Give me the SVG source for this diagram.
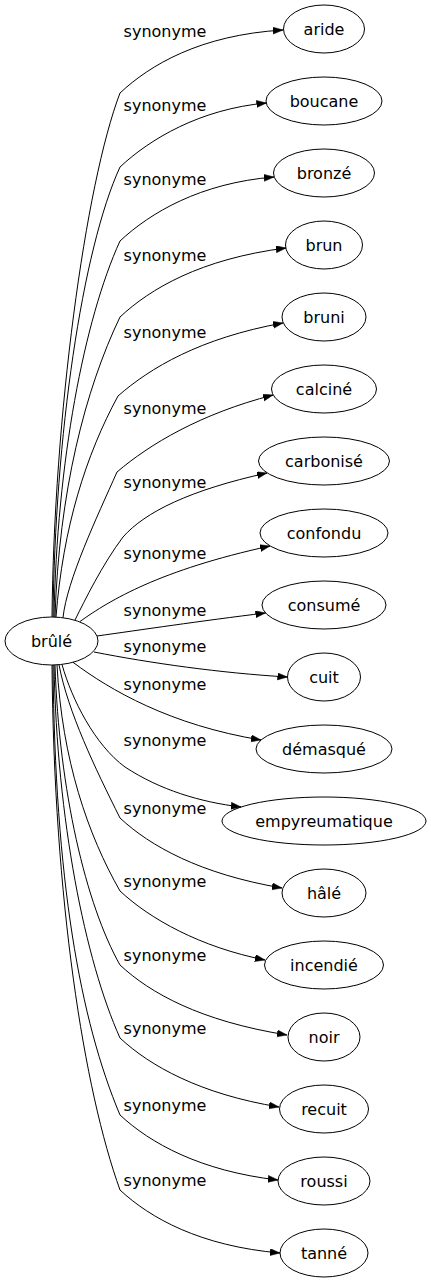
<svg xmlns="http://www.w3.org/2000/svg" width="431" height="1283" viewBox="0 0 431 1283">
<style>
.n ellipse{fill:none;stroke:#000;stroke-width:1}
text{font-family:"DejaVu Sans",Verdana,sans-serif;font-size:16px;fill:#000;text-anchor:middle}
.e path{fill:none;stroke:#000;stroke-width:1;marker-end:url(#ah)}
</style>
<defs>
<marker id="ah" markerUnits="userSpaceOnUse" markerWidth="10" markerHeight="8" refX="10" refY="3.5" orient="auto"><path d="M0,0 L10,3.5 L0,7 z" fill="#000" stroke="#000" stroke-width="0.5"/></marker>
</defs>
<rect width="431" height="1283" fill="#fff"/>
<g id="edges" class="e">
<path d="M52,617 C54,418 85,185 120,93 C150,65 200,35 283,30"/>
<path d="M53,617 C55,437 82,250 120,167 C150,139 200,109 266.5,103"/>
<path d="M54,617 C57,462 84,320 120,241 C150,213 200,183 274,177"/>
<path d="M55,617 C59,492 85,390 120,317 C150,289 200,259 286,248"/>
<path d="M56,617 C63,527 86,455 118,396 C150,368 200,338 283,323"/>
<path d="M63,617.7 C67,580 97,517 117,472 C150,444 200,414 273,395"/>
<path d="M75,620 C85,600 102,565 123,537 C145,512 190,490 267,473"/>
<path d="M80,621.5 C110,600 160,570 270,546"/>
<path d="M97,636 C140,630 200,621 265.5,613"/>
<path d="M94,652 C150,663 220,673 287.5,677"/>
<path d="M73,662.3 C110,690 170,725 261,740"/>
<path d="M62,664.5 C72,700 95,745 125,767 C160,790 200,802 241,807"/>
<path d="M59,664.8 C68,712 95,768 120,818 C150,846 200,874 282,888"/>
<path d="M57,664.9 C62,760 88,835 120,891 C150,919 200,947 265,960"/>
<path d="M55,665 C59,790 86,905 120,965 C150,993 200,1021 287,1035"/>
<path d="M54,665 C57,820 85,960 120,1038 C150,1066 200,1094 279,1107"/>
<path d="M53,665 C55,880 80,1020 120,1115 C150,1143 200,1171 278,1180"/>
<path d="M52,665 C54,900 84,1090 120,1190 C150,1218 200,1246 280,1253"/>
</g>
<g id="edge-labels">
<text x="165" y="37">synonyme</text>
<text x="165" y="111">synonyme</text>
<text x="165" y="185">synonyme</text>
<text x="165" y="261">synonyme</text>
<text x="165" y="338">synonyme</text>
<text x="165" y="414">synonyme</text>
<text x="165" y="488">synonyme</text>
<text x="165" y="559">synonyme</text>
<text x="165" y="616">synonyme</text>
<text x="165" y="652">synonyme</text>
<text x="165" y="690">synonyme</text>
<text x="165" y="746">synonyme</text>
<text x="165" y="814">synonyme</text>
<text x="165" y="887">synonyme</text>
<text x="165" y="961">synonyme</text>
<text x="165" y="1034">synonyme</text>
<text x="165" y="1111">synonyme</text>
<text x="165" y="1186">synonyme</text>
</g>
<g id="n-brule" class="n"><ellipse cx="51.5" cy="641" rx="46.5" ry="24"/><text x="51.5" y="647">brûlé</text></g>
<g id="n-aride" class="n"><ellipse cx="324" cy="29" rx="40.5" ry="24"/><text x="324" y="35">aride</text></g>
<g id="n-boucane" class="n"><ellipse cx="324" cy="101" rx="58" ry="24"/><text x="324" y="107">boucane</text></g>
<g id="n-bronze" class="n"><ellipse cx="324" cy="173" rx="50.5" ry="24"/><text x="324" y="179">bronzé</text></g>
<g id="n-brun" class="n"><ellipse cx="324" cy="245" rx="38.5" ry="24"/><text x="324" y="251">brun</text></g>
<g id="n-bruni" class="n"><ellipse cx="324" cy="317" rx="42" ry="24"/><text x="324" y="323">bruni</text></g>
<g id="n-calcine" class="n"><ellipse cx="324" cy="389" rx="52.5" ry="24"/><text x="324" y="395">calciné</text></g>
<g id="n-carbonise" class="n"><ellipse cx="324" cy="461" rx="65.5" ry="24"/><text x="324" y="467">carbonisé</text></g>
<g id="n-confondu" class="n"><ellipse cx="324" cy="533" rx="64" ry="24"/><text x="324" y="539">confondu</text></g>
<g id="n-consume" class="n"><ellipse cx="324" cy="605" rx="62" ry="24"/><text x="324" y="611">consumé</text></g>
<g id="n-cuit" class="n"><ellipse cx="324" cy="677" rx="36.5" ry="24"/><text x="324" y="683">cuit</text></g>
<g id="n-demasque" class="n"><ellipse cx="324" cy="749" rx="68" ry="24"/><text x="324" y="755">démasqué</text></g>
<g id="n-empyreumatique" class="n"><ellipse cx="324" cy="821" rx="102" ry="24"/><text x="324" y="827">empyreumatique</text></g>
<g id="n-hale" class="n"><ellipse cx="324" cy="893" rx="42" ry="24"/><text x="324" y="899">hâlé</text></g>
<g id="n-incendie" class="n"><ellipse cx="324" cy="965" rx="59.5" ry="24"/><text x="324" y="971">incendié</text></g>
<g id="n-noir" class="n"><ellipse cx="324" cy="1037" rx="36" ry="24"/><text x="324" y="1043">noir</text></g>
<g id="n-recuit" class="n"><ellipse cx="324" cy="1109" rx="44.5" ry="24"/><text x="324" y="1115">recuit</text></g>
<g id="n-roussi" class="n"><ellipse cx="324" cy="1181" rx="46" ry="24"/><text x="324" y="1187">roussi</text></g>
<g id="n-tanne" class="n"><ellipse cx="324" cy="1253" rx="44" ry="24"/><text x="324" y="1259">tanné</text></g>
</svg>
